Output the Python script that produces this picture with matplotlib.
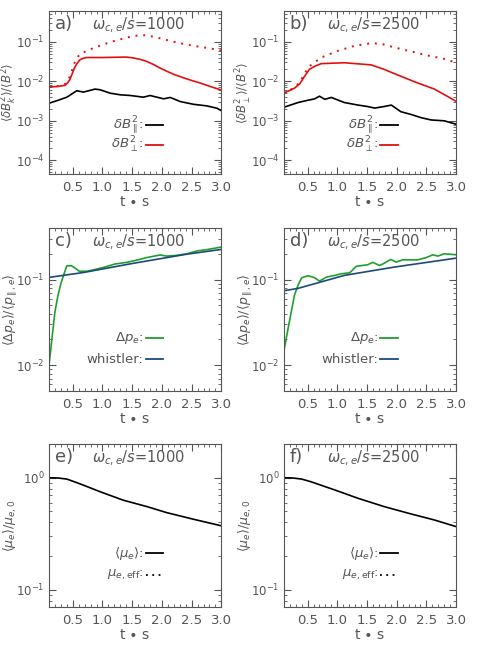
"""
    Six-panel log plot of magnetic fluctuations, pressure anisotropy
    and magnetic moment versus t*s.
"""
import matplotlib
matplotlib.use('Agg')
import matplotlib.pyplot as plt
from matplotlib.ticker import MultipleLocator, FormatStrFormatter, NullFormatter

GRAY = '#555555'
RED = '#e01010'
GREEN = '#1e9e2e'
BLUE = '#1c4a78'

OMEGA_LABELS = ['1000', '2500']

# panel a: omega_ce/s = 1000
T_A_PAR = [0.1, 0.25, 0.4, 0.567, 0.68, 0.876, 0.96, 1.13, 1.30, 1.47, 1.69,
           1.80, 2.03, 2.14, 2.31, 2.53, 2.76, 2.93, 3.0]
A_PAR = [2.78e-3, 3.3e-3, 3.96e-3, 5.77e-3, 5.33e-3, 6.35e-3, 6.1e-3, 5.0e-3,
         4.55e-3, 4.37e-3, 3.96e-3, 4.37e-3, 3.6e-3, 3.9e-3, 3.07e-3, 2.62e-3,
         2.38e-3, 2.07e-3, 1.8e-3]
T_A_PERP = [0.1, 0.25, 0.37, 0.41, 0.45, 0.49, 0.53, 0.57, 0.62, 0.67, 0.73,
            1.0, 1.2, 1.4, 1.5, 1.63, 1.74, 1.85, 1.96, 2.08, 2.2, 2.36, 2.5,
            2.64, 2.8, 3.0]
A_PERP = [7.2e-3, 7.4e-3, 7.9e-3, 9.0e-3, 1.1e-2, 1.55e-2, 2.2e-2, 2.8e-2,
          3.5e-2, 3.8e-2, 4.0e-2, 4.0e-2, 4.05e-2, 4.1e-2, 3.95e-2, 3.6e-2,
          3.2e-2, 2.7e-2, 2.2e-2, 1.8e-2, 1.5e-2, 1.23e-2, 1.05e-2, 9.1e-3,
          7.5e-3, 6.0e-3]
T_A_DOT = [0.1, 0.25, 0.37, 0.45, 0.54, 0.62, 0.75, 0.87, 1.15, 1.43, 1.63,
           1.75, 1.97, 2.25, 2.53, 2.81, 3.0]
A_DOT = [7.2e-3, 7.6e-3, 8.5e-3, 1.3e-2, 3.3e-2, 4.9e-2, 6.0e-2, 7.2e-2, 0.10,
         0.13, 0.148, 0.145, 0.122, 0.096, 0.079, 0.068, 0.060]

# panel b: omega_ce/s = 2500
T_B_PAR = [0.1, 0.34, 0.5, 0.62, 0.70, 0.79, 0.90, 1.12, 1.35, 1.51, 1.63,
           1.79, 1.91, 2.07, 2.24, 2.41, 2.58, 2.80, 3.0]
B_PAR = [2.2e-3, 2.9e-3, 3.3e-3, 3.6e-3, 4.2e-3, 3.5e-3, 3.9e-3, 2.9e-3, 2.5e-3,
         2.3e-3, 2.1e-3, 2.3e-3, 2.5e-3, 1.7e-3, 1.45e-3, 1.2e-3, 1.05e-3,
         1.0e-3, 8.2e-4]
T_B_PERP = [0.1, 0.28, 0.37, 0.45, 0.53, 0.62, 0.73, 1.12, 1.57, 1.79, 2.07,
            2.35, 2.63, 2.86, 3.0]
B_PERP = [5.0e-3, 6.7e-3, 8.7e-3, 1.34e-2, 2.0e-2, 2.4e-2, 2.8e-2, 2.95e-2,
          2.6e-2, 2.0e-2, 1.34e-2, 9.1e-3, 6.4e-3, 4.1e-3, 3.1e-3]
T_B_DOT = [0.1, 0.28, 0.37, 0.45, 0.53, 0.73, 1.01, 1.29, 1.57, 1.74, 1.96,
           2.24, 2.52, 2.80, 3.0]
B_DOT = [5.0e-3, 6.9e-3, 9.5e-3, 1.57e-2, 2.4e-2, 4.0e-2, 5.9e-2, 7.9e-2,
         9.2e-2, 8.9e-2, 7.2e-2, 5.7e-2, 4.5e-2, 3.7e-2, 2.95e-2]

# panel c: pressure anisotropy, omega_ce/s = 1000
T_C_DP = [0.1, 0.2, 0.25, 0.3, 0.35, 0.4, 0.48, 0.54, 0.61, 0.74, 0.85, 1.02,
          1.21, 1.41, 1.58, 1.75, 1.97, 2.08, 2.22, 2.42, 2.59, 2.76, 3.0]
C_DP = [0.010, 0.042, 0.065, 0.09, 0.115, 0.145, 0.145, 0.136, 0.125, 0.125,
        0.13, 0.139, 0.152, 0.159, 0.169, 0.181, 0.194, 0.188, 0.191, 0.20,
        0.216, 0.224, 0.24]
T_C_WH = [0.1, 0.68, 1.52, 2.42, 3.0]
C_WH = [0.106, 0.121, 0.155, 0.198, 0.225]

# panel d: pressure anisotropy, omega_ce/s = 2500
T_D_DP = [0.1, 0.2, 0.28, 0.34, 0.40, 0.51, 0.62, 0.70, 0.82, 0.96, 1.07, 1.21,
          1.32, 1.51, 1.60, 1.71, 1.79, 1.90, 1.99, 2.10, 2.35, 2.49, 2.61,
          2.69, 2.80, 3.0]
D_DP = [0.0145, 0.034, 0.066, 0.086, 0.105, 0.111, 0.105, 0.096, 0.107, 0.112,
        0.117, 0.120, 0.143, 0.149, 0.159, 0.146, 0.155, 0.172, 0.160, 0.17,
        0.17, 0.18, 0.195, 0.188, 0.2, 0.195]
T_D_WH = [0.1, 0.34, 1.12, 1.96, 3.0]
D_WH = [0.074, 0.079, 0.112, 0.14, 0.178]

# panels e, f: magnetic moment
T_E_MU = [0.1, 0.25, 0.4, 0.57, 0.7, 0.96, 1.35, 1.75, 2.08, 2.53, 3.0]
E_MU = [1.0, 0.995, 0.973, 0.903, 0.85, 0.75, 0.63, 0.552, 0.488, 0.426, 0.372]
T_F_MU = [0.1, 0.25, 0.4, 0.56, 0.96, 1.35, 1.79, 2.24, 2.63, 3.0]
F_MU = [1.0, 0.995, 0.973, 0.92, 0.777, 0.655, 0.552, 0.475, 0.42, 0.366]


def style_axis(ax, ylim):
    """
        IDL-like axis: ticks inside on all sides, gray frame and text.
    """
    ax.set_yscale('log')
    ax.set_xlim(0.1, 3.0)
    ax.set_ylim(*ylim)
    ax.xaxis.set_major_locator(MultipleLocator(0.5))
    ax.xaxis.set_minor_locator(MultipleLocator(0.1))
    ax.xaxis.set_major_formatter(FormatStrFormatter('%.1f'))
    ax.yaxis.set_minor_formatter(NullFormatter())
    ax.tick_params(which='both', direction='in', top=True, right=True,
                   color=GRAY, labelcolor=GRAY)
    ax.tick_params(axis='x', labelsize=9.5, pad=5)
    ax.tick_params(axis='y', labelsize=8.5, pad=3)
    ax.tick_params(which='major', length=5, width=0.8)
    ax.tick_params(which='minor', length=2.5, width=0.6)
    for spine in ax.spines.values():
        spine.set_color(GRAY)
        spine.set_linewidth(0.8)
    ax.set_xlabel(r't $\bullet$ s', color=GRAY, fontsize=10, labelpad=1)


def set_ylab(ax, text, size=9):
    ax.set_ylabel(text, color=GRAY, fontsize=size)
    ax.yaxis.set_label_coords(-0.175, 0.5)


def legend_entry(ax, y, label, color, ls='-'):
    """
        Text label followed by a short line sample, drawn in axes coords.
    """
    ax.text(0.55, y, label, transform=ax.transAxes, ha='right',
            va='center', color=GRAY, fontsize=9.5)
    ax.plot([0.56, 0.66], [y, y], transform=ax.transAxes, color=color,
            ls=ls, lw=1.3)


def panel_title(ax, letter, omega):
    ax.text(0.035, 0.92, letter, transform=ax.transAxes, color=GRAY,
            fontsize=13, va='center')
    ax.text(0.25, 0.915, r'$\omega_{c,e}/s$=' + omega,
            transform=ax.transAxes, color=GRAY, fontsize=10.5, va='center')


def main():
    fig = plt.figure(figsize=(4.91, 6.53), dpi=100)
    lefts = [0.0998, 0.578]
    width = 0.351
    bottoms = [0.7335, 0.4012, 0.0704]
    height = 0.2496

    axes = [[fig.add_axes([l, b, width, height]) for l in lefts]
            for b in bottoms]

    # row 1: magnetic fluctuations
    rows1 = [(T_A_PAR, A_PAR, T_A_PERP, A_PERP, T_A_DOT, A_DOT, 'a)',
              r'$\langle\delta B_k^{2}\rangle/\langle B^2\rangle$'),
             (T_B_PAR, B_PAR, T_B_PERP, B_PERP, T_B_DOT, B_DOT, 'b)',
              r'$\langle\delta B_\perp^{2}\rangle/\langle B^2\rangle$')]
    for i, (tp, vp, tq, vq, td, vd, letter, ylab) in enumerate(rows1):
        ax = axes[0][i]
        ax.plot(tp, vp, color='black', lw=1.2)
        ax.plot(tq, vq, color=RED, lw=1.2)
        ax.plot(td, vd, color=RED, lw=1.4, ls=(0, (1, 3)))
        style_axis(ax, (4.5e-5, 0.6))
        panel_title(ax, letter, OMEGA_LABELS[i])
        legend_entry(ax, 0.30, r'$\delta B_{\parallel}^{2}$:', 'black')
        legend_entry(ax, 0.18, r'$\delta B_{\perp}^{2}$:', RED)
        set_ylab(ax, ylab, size=8.5)

    # row 2: pressure anisotropy
    rows2 = [(T_C_DP, C_DP, T_C_WH, C_WH, 'c)'),
             (T_D_DP, D_DP, T_D_WH, D_WH, 'd)')]
    for i, (tg, vg, tw, vw, letter) in enumerate(rows2):
        ax = axes[1][i]
        ax.plot(tg, vg, color=GREEN, lw=1.2)
        ax.plot(tw, vw, color=BLUE, lw=1.2)
        style_axis(ax, (0.005, 0.4))
        panel_title(ax, letter, OMEGA_LABELS[i])
        legend_entry(ax, 0.323, r'$\Delta p_{e}$:', GREEN)
        legend_entry(ax, 0.195, 'whistler:', BLUE)
        set_ylab(ax, r'$\langle\Delta p_e\rangle/\langle p_{\parallel,e}\rangle$')

    # row 3: magnetic moment
    rows3 = [(T_E_MU, E_MU, 'e)'), (T_F_MU, F_MU, 'f)')]
    for i, (tm, vm, letter) in enumerate(rows3):
        ax = axes[2][i]
        ax.plot(tm, vm, color='black', lw=1.2)
        style_axis(ax, (0.07, 2.0))
        panel_title(ax, letter, OMEGA_LABELS[i])
        legend_entry(ax, 0.33, r'$\langle\mu_e\rangle$:', 'black')
        legend_entry(ax, 0.196, r'$\mu_{e,\mathrm{eff}}$:', 'black',
                     ls=(0, (1, 2.5)))
        set_ylab(ax, r'$\langle\mu_e\rangle/\mu_{e,0}$')

    fig.savefig('out.png', dpi=100)


if __name__ == "__main__":
    main()
